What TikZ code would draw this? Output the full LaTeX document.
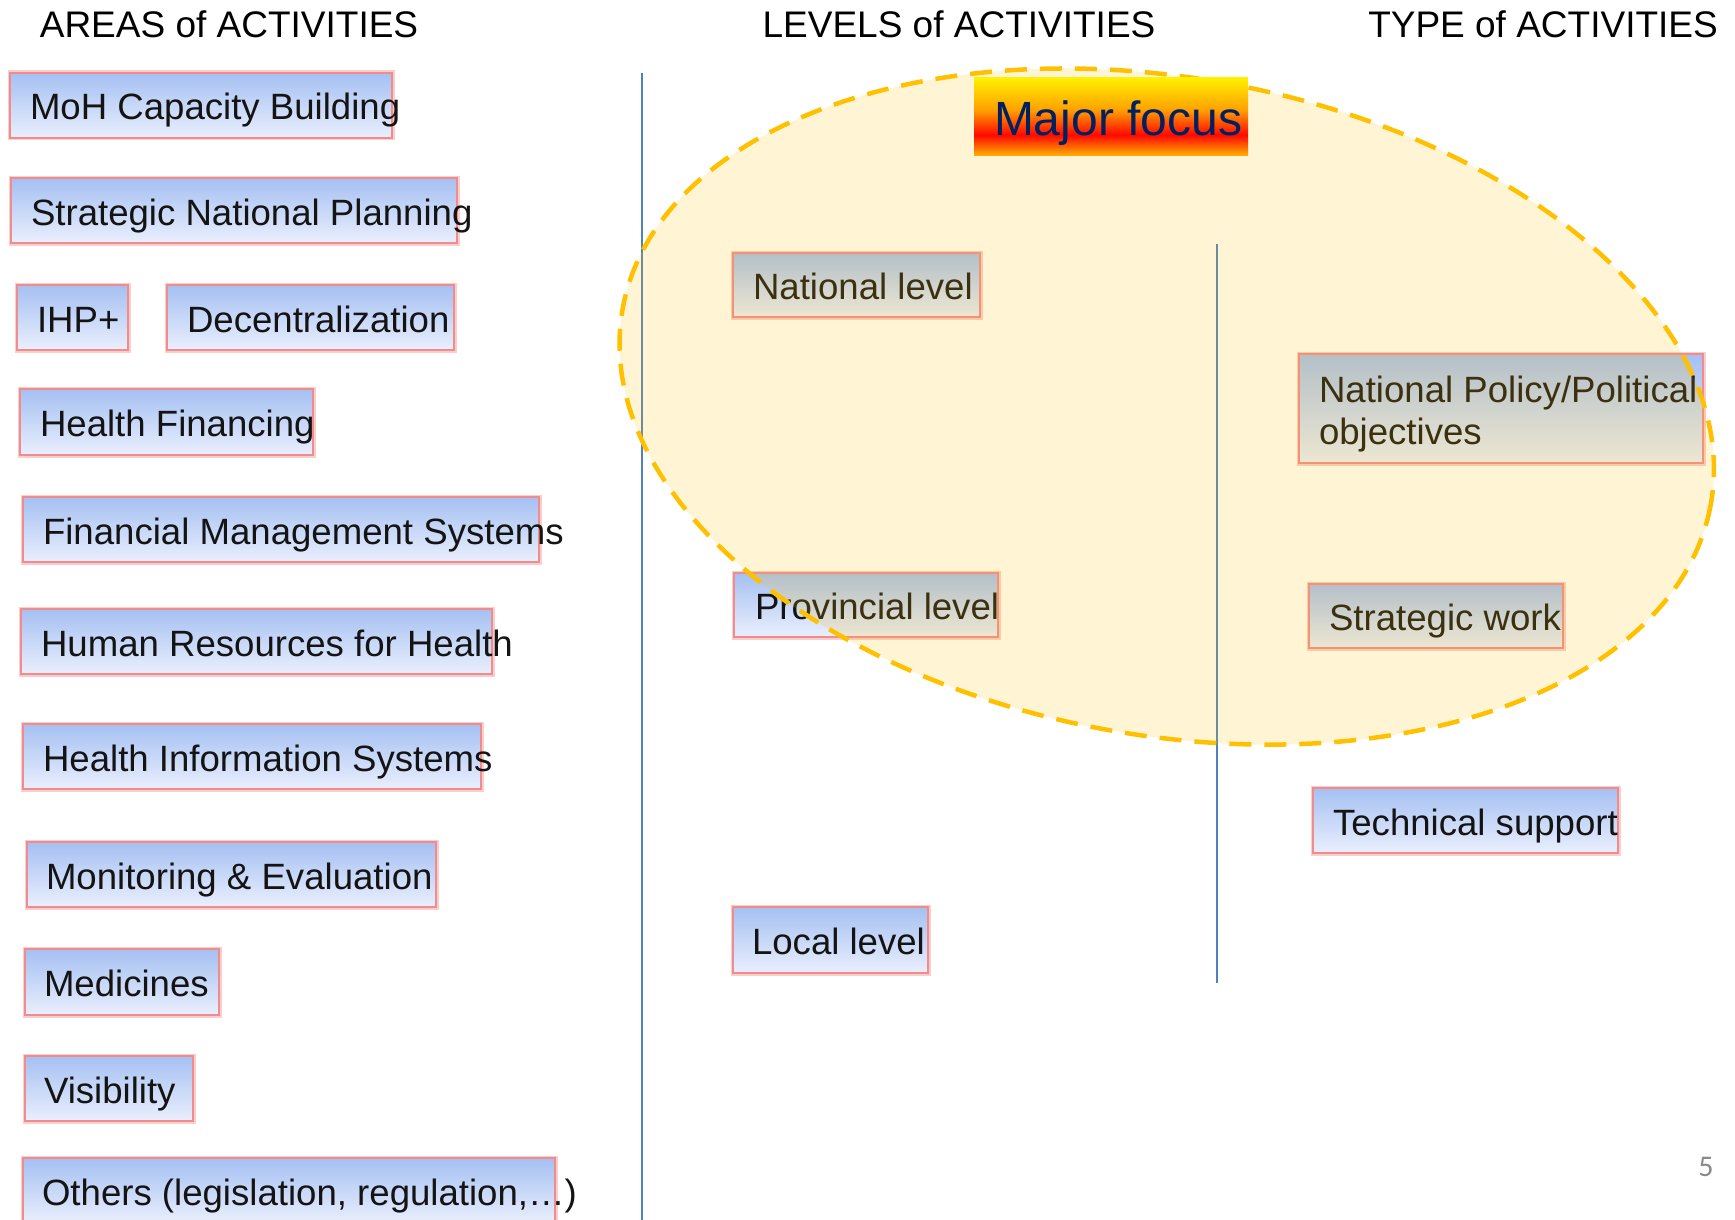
\documentclass[tikz,border=0pt]{standalone}
\usepackage{fontspec}
\setmainfont{Liberation Sans}
\newfontfamily\pagenumfont{Carlito}
\definecolor{boxtop}{RGB}{165,192,242}
\definecolor{boxbot}{RGB}{234,239,253}
\definecolor{boxedge}{RGB}{240,140,140}
\definecolor{boxglow}{RGB}{252,205,205}
\definecolor{sepline}{RGB}{79,129,189}
\definecolor{ellc}{RGB}{255,192,0}
\definecolor{mftop}{RGB}{255,240,0}
\definecolor{mforange}{RGB}{255,160,0}
\definecolor{mfred}{RGB}{255,8,0}
\definecolor{mfbot}{RGB}{255,180,0}
\definecolor{mftext}{RGB}{0,32,96}
\definecolor{pagenum}{RGB}{137,137,137}
\pgfdeclareverticalshading{mfshade}{100bp}{color(0bp)=(mfbot); color(25bp)=(mfbot); color(38.5bp)=(mfred); color(54.5bp)=(mforange); color(75bp)=(mftop); color(100bp)=(mftop)}
\tikzset{
  abox/.style={rectangle, inner sep=0pt, outer sep=0pt, top color=boxtop, bottom color=boxbot,
    draw=boxedge, line width=1.5pt, preaction={draw=boxglow, line width=5pt}},
  lbl/.style={inner sep=0pt, outer sep=0pt, text=black!92, font=\fontsize{36.6}{41.5}\selectfont},
  hdr/.style={inner sep=0pt, outer sep=0pt, text=black, font=\fontsize{37}{42}\selectfont},
  sep/.style={draw=sepline, line width=2.5pt},
  ell/.style={fill=ellc, fill opacity=0.17, draw=ellc, draw opacity=1, line width=4.5pt, dash pattern=on 22pt off 13pt},
}
\newcommand{\actbox}[7]{%
  \node[abox, anchor=north west, minimum width={#4-#2}, minimum height={#5-#3}] (#1) at (#2,#3) {};
  \node[lbl, anchor=base west] (#1t) at ({#6},{(#3+#5)/2+14.5}) {#7};
}
\begin{document}
\begin{tikzpicture}[x=1pt,y=-1pt]
\useasboundingbox (0,0) rectangle (1735,1220);
% headers
\node[hdr, anchor=base] (h1) at (229,38) {AREAS of ACTIVITIES};
\node[hdr, anchor=base] (h2) at (959,38) {LEVELS of ACTIVITIES};
\node[hdr, anchor=base] (h3) at (1543,38) {TYPE of ACTIVITIES};
% separators
\coordinate (s1a) at (642,73);
\coordinate (s1b) at (642,1225);
\coordinate (s2a) at (1217,244);
\coordinate (s2b) at (1217,983);
\draw[sep] (s1a) -- (s1b);
\draw[sep] (s2a) -- (s2b);
% areas
\actbox{a1}{10}{73}{392}{138}{30}{MoH Capacity Building}
\actbox{a2}{11}{178}{457}{243}{31}{Strategic National Planning}
\actbox{a3}{17}{285}{128}{350}{37}{IHP+}
\actbox{a4}{167}{285}{454}{350}{187}{Decentralization}
\actbox{a5}{20}{389}{313}{455}{40}{Health Financing}
\actbox{a6}{23}{497}{539}{562}{43}{Financial Management Systems}
\actbox{a7}{21}{609}{492}{674}{41}{Human Resources for Health}
\actbox{a8}{23}{724}{481}{789}{43}{Health Information Systems}
\actbox{a9}{27}{842}{436}{907}{46}{Monitoring \& Evaluation}
\actbox{a10}{25}{949}{219}{1015}{44}{Medicines}
\actbox{a11}{25}{1056}{193}{1121}{44}{Visibility}
\actbox{a12}{23}{1158}{555}{1223}{42}{Others (legislation, regulation,…)}
% levels
\actbox{l1}{733}{253}{980}{317}{753}{National level}
\actbox{l2}{734}{573}{998}{637}{755}{Provincial level}
\actbox{l3}{733}{907}{928}{973}{752}{Local level}
% types
\node[abox, anchor=north west, minimum width=404, minimum height=109] (t1) at (1299,354) {};
\node[lbl, anchor=north west, align=left] (t1t) at (1319,376) {National Policy/Political\\objectives};
\actbox{t2}{1309}{584}{1563}{648}{1329}{Strategic work}
\actbox{t3}{1313}{788}{1618}{853}{1333}{Technical support}
% major focus ellipse
\coordinate (ec) at (1166.8,406.6);
\draw[ell, rotate around={-10.2:(ec)}] (ec) ellipse [x radius=552.8, y radius=328.7];
\node[rectangle, inner sep=0pt, outer sep=0pt, shading=mfshade, anchor=north west, minimum width=274, minimum height=78] (mf) at (974,78) {};
\node[inner sep=0pt, outer sep=0pt, text=mftext, font=\fontsize{48}{53}\selectfont, anchor=base west] (mft) at (994,136) {Major focus};
% page number
\node[inner sep=0pt, text=pagenum, font=\pagenumfont\fontsize{30}{33}\selectfont, anchor=base] (pn) at (1706,1176) {5};
\end{tikzpicture}
\end{document}
